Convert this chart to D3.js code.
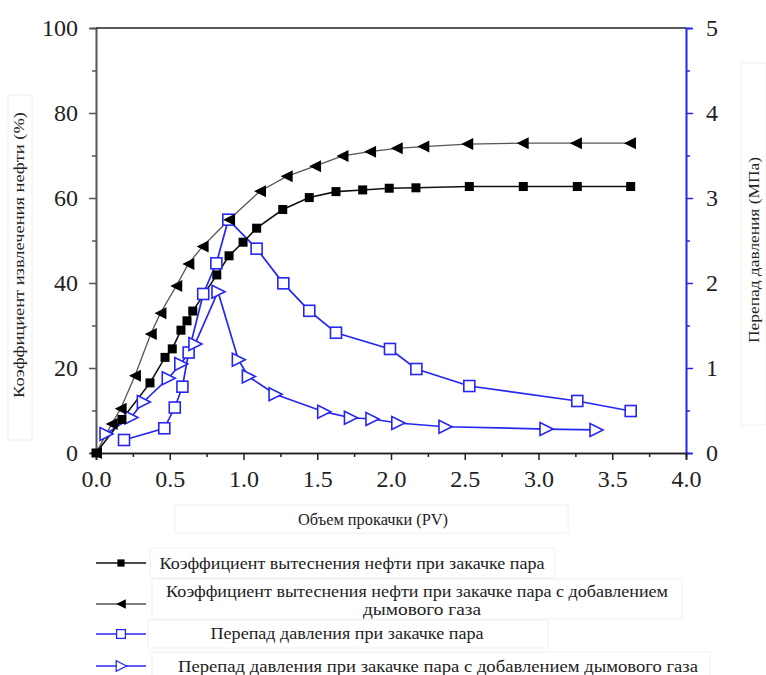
<!DOCTYPE html>
<html><head><meta charset="utf-8">
<script src="https://cdn.jsdelivr.net/npm/d3@7"></script>
<style>body{margin:0;background:#fff;}</style>
</head>
<body><svg id="c" width="766" height="675"></svg>
<script>
// ---- data ----
const steamX   = [0,0.176,0.366,0.468,0.517,0.576,0.617,0.656,0.819,0.902,0.997,1.089,1.266,1.446,1.627,1.808,1.988,2.169,2.531,2.897,3.263,3.625];
const steamRec = [0,7.9,16.5,22.5,24.5,28.9,31.1,33.4,41.9,46.4,49.6,52.9,57.3,60.1,61.5,61.9,62.3,62.4,62.7,62.7,62.7,62.7];
const gasX     = [0,0.106,0.167,0.264,0.371,0.437,0.544,0.626,0.723,0.902,1.112,1.293,1.485,1.671,1.858,2.039,2.219,2.517,2.893,3.254,3.620];
const gasRec   = [0,6.8,10.4,18.2,28.0,32.9,39.3,44.5,48.6,54.9,61.6,65.1,67.5,69.9,70.9,71.7,72.1,72.7,72.9,72.9,72.9];
const steamPX  = [0.190,0.463,0.534,0.586,0.628,0.727,0.816,0.897,1.089,1.270,1.446,1.627,1.993,2.172,2.531,3.263,3.625];
const steamDP  = [0.153,0.291,0.535,0.780,1.182,1.871,2.232,2.745,2.404,1.996,1.673,1.415,1.224,0.988,0.788,0.612,0.494];
const gasPX    = [0.068,0.237,0.321,0.490,0.575,0.671,0.827,0.965,1.033,1.214,1.544,1.725,1.871,2.046,2.366,3.051,3.390];
const gasDP    = [0.224,0.418,0.600,0.879,1.047,1.282,1.898,1.098,0.900,0.691,0.486,0.415,0.400,0.353,0.309,0.282,0.271];
const xTicks   = [0,0.5,1.0,1.5,2.0,2.5,3.0,3.5,4.0];
const yLTicks  = [0,20,40,60,80,100];
const yRTicks  = [0,1,2,3,4,5];
const legendLabels = [
  ["Коэффициент вытеснения нефти при закачке пара"],
  ["Коэффициент вытеснения нефти при закачке пара с добавлением","дымового газа"],
  ["Перепад давления при закачке пара"],
  ["Перепад давления при закачке пара с добавлением дымового газа"]
];
const xTitle = "Объем прокачки (PV)";
const yLTitle = "Коэффициент извлечения нефти (%)";
const yRTitle = "Перепад давления (МПа)";

// ---- drawing ----
const BLUE = "#2626f2";
const FONT = '"Liberation Serif", "Times New Roman", serif';
const svg = d3.select("#c");
const x = d3.scaleLinear().domain([0,4]).range([96,686]);
const yL = d3.scaleLinear().domain([0,100]).range([453,28]);
const yR = d3.scaleLinear().domain([0,5]).range([453,28]);

// faint label boxes
const boxes = [[8,95,24,345],[741,63,25,362],[175,505,393,28],[150,548,405,30],[152,579,530,40],[148,620,400,28],[152,652,558,28]];
svg.selectAll("rect.bx").data(boxes).join("rect").attr("class","bx")
  .attr("x",d=>d[0]).attr("y",d=>d[1]).attr("width",d=>d[2]).attr("height",d=>d[3])
  .attr("fill","none").attr("stroke","#f0f0f0").attr("stroke-width",1);

function styleAxis(g,color,fs){
  g.select(".domain").attr("stroke",color).attr("stroke-width",1.6);
  g.selectAll(".tick line").attr("stroke",color).attr("stroke-width",1.5);
  g.selectAll(".tick text").attr("fill","#222").style("font-size",fs+"px").style("font-family",FONT);
}
const gLm = svg.append("g").attr("transform","translate(96,0)")
  .call(d3.axisLeft(yL).tickValues([10,30,50,70,90]).tickSize(4).tickFormat(""));
styleAxis(gLm,"#555",1);
const gL = svg.append("g").attr("transform","translate(96,0)")
  .call(d3.axisLeft(yL).tickValues(yLTicks).tickSize(7).tickPadding(11).tickFormat(d3.format("d")));
styleAxis(gL,"#555",24);

const gRm = svg.append("g").attr("transform","translate(686,0)")
  .call(d3.axisRight(yR).tickValues([0.5,1.5,2.5,3.5,4.5]).tickSize(4).tickFormat(""));
styleAxis(gRm,BLUE,1);
const gR = svg.append("g").attr("transform","translate(686,0)")
  .call(d3.axisRight(yR).tickValues(yRTicks).tickSize(7).tickPadding(13).tickFormat(d3.format("d")));
styleAxis(gR,BLUE,24);

const gBm = svg.append("g").attr("transform","translate(0,453)")
  .call(d3.axisBottom(x).tickValues(d3.range(0.25,4,0.5)).tickSize(4).tickFormat(""));
styleAxis(gBm,"#222",1);
const gB = svg.append("g").attr("transform","translate(0,453)")
  .call(d3.axisBottom(x).tickValues(xTicks).tickSize(7).tickPadding(10).tickFormat(d3.format(".1f")));
styleAxis(gB,"#222",24);

svg.append("line").attr("x1",x(0)).attr("x2",x(4)).attr("y1",yL(100)).attr("y2",yL(100))
  .attr("stroke","#222").attr("stroke-width",1.6);

function txt(sel,fs){ return sel.style("font-family",FONT).style("font-size",fs+"px").attr("fill","#222").attr("lengthAdjust","spacingAndGlyphs"); }
// axis titles
txt(svg.append("text").attr("transform",`translate(24,255) rotate(-90)`).attr("text-anchor","middle"),15)
  .attr("textLength",286).text(yLTitle);
txt(svg.append("text").attr("transform",`translate(759,250) rotate(-90)`).attr("text-anchor","middle"),15)
  .attr("textLength",186).text(yRTitle);
txt(svg.append("text").attr("x",373).attr("y",525).attr("text-anchor","middle"),16)
  .attr("textLength",150).text(xTitle);

// symbols
const sqFilled = g=>g.append("rect").attr("x",-4.5).attr("y",-4.5).attr("width",9).attr("height",9).attr("fill","#000");
const triLeft = g=>g.append("path").attr("d","M-6,0L6,-6L6,6Z").attr("fill","#000");
const sqOpen = g=>g.append("rect").attr("x",-5.5).attr("y",-5.5).attr("width",11).attr("height",11).attr("fill","#fff").attr("stroke",BLUE).attr("stroke-width",1.6);
const triRight = g=>g.append("path").attr("d","M7,0L-6,-6.5L-6,6.5Z").attr("fill","#fff").attr("stroke",BLUE).attr("stroke-width",1.6);

const series = [
  {xs:steamPX, ys:steamDP, sy:yR, color:BLUE, w:1.7, sym:sqOpen},
  {xs:gasPX, ys:gasDP, sy:yR, color:BLUE, w:1.7, sym:triRight},
  {xs:gasX, ys:gasRec, sy:yL, color:"#555", w:1.3, sym:triLeft},
  {xs:steamX, ys:steamRec, sy:yL, color:"#111", w:1.6, sym:sqFilled}
];
series.forEach(s=>{
  const pts = s.xs.map((v,i)=>[x(v), s.sy(s.ys[i])]);
  svg.append("path").attr("d",d3.line()(pts)).attr("fill","none").attr("stroke",s.color).attr("stroke-width",s.w);
});
series.forEach(s=>{
  s.xs.forEach((v,i)=>{
    const g = svg.append("g").attr("transform",`translate(${x(v)},${s.sy(s.ys[i])})`);
    s.sym(g);
  });
});

// legend
const legRows = [
  {y:563, sym:sqFilled, color:"#111", lines:legendLabels[0], tx:[352], ty:[569], tl:[385]},
  {y:604, sym:triLeft, color:"#555", lines:legendLabels[1], tx:[417,422], ty:[597,615], tl:[502,118]},
  {y:634, sym:sqOpen, color:BLUE, lines:legendLabels[2], tx:[347], ty:[639], tl:[273]},
  {y:666, sym:triRight, color:BLUE, lines:legendLabels[3], tx:[438], ty:[672], tl:[520]}
];
legRows.forEach(r=>{
  svg.append("line").attr("x1",96).attr("x2",146).attr("y1",r.y).attr("y2",r.y).attr("stroke",r.color).attr("stroke-width",1.6);
  const g = svg.append("g").attr("transform",`translate(121,${r.y}) scale(0.8)`);
  r.sym(g);
  r.lines.forEach((t,i)=>{
    txt(svg.append("text").attr("x",r.tx[i]).attr("y",r.ty[i]).attr("text-anchor","middle"),17)
      .attr("textLength",r.tl[i]).text(t);
  });
});
</script></body></html>
